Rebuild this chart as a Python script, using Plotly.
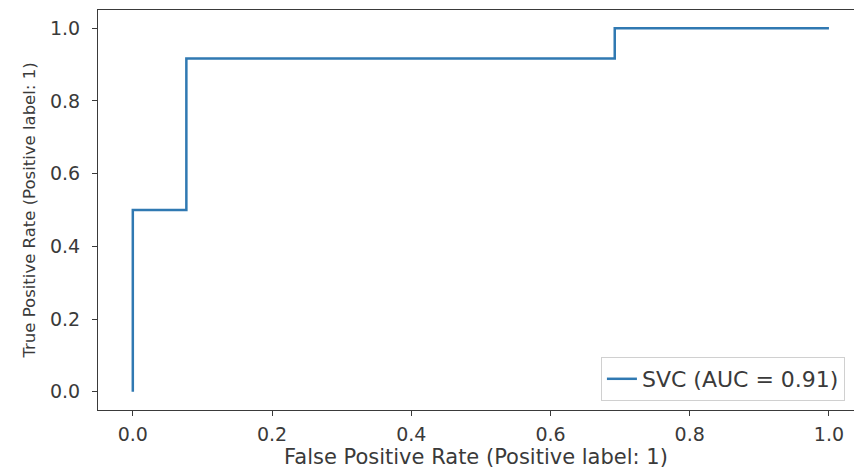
import plotly.graph_objects as go

fpr = [0.0, 0.0, 1/13, 1/13, 9/13, 9/13, 1.0]
tpr = [0.0, 0.5, 0.5, 11/12, 11/12, 1.0, 1.0]
series_name = "SVC (AUC = 0.91)"
tick_vals = [0.0, 0.2, 0.4, 0.6, 0.8, 1.0]
tick_text = ["0.0", "0.2", "0.4", "0.6", "0.8", "1.0"]

fig = go.Figure()
fig.add_trace(go.Scatter(x=fpr, y=tpr, mode="lines", name=series_name,
                         line=dict(color="#3079b2", width=2.5)))

axis_common = dict(showgrid=False, zeroline=False, showline=True, linecolor="#3a3a3a",
                   linewidth=1.2, ticks="outside", ticklen=5, tickwidth=1.2, tickcolor="#3a3a3a",
                   tickvals=tick_vals, ticktext=tick_text,
                   tickfont=dict(family="DejaVu Sans", size=19, color="#3a3a3a"))

fig.update_layout(
    width=854, height=470,
    margin=dict(l=98, r=0, t=10, b=60),
    paper_bgcolor="white", plot_bgcolor="white",
    xaxis=dict(range=[-0.05, 1.036], mirror=True, ticklabelstandoff=2,
               title=dict(text="False Positive Rate (Positive label: 1)", standoff=2,
                          font=dict(family="DejaVu Sans", size=21, color="#3a3a3a")),
               **axis_common),
    yaxis=dict(range=[-0.05, 1.05], ticklabelstandoff=8,
               title=dict(text="True Positive Rate (Positive label: 1)", standoff=10,
                          font=dict(family="DejaVu Sans", size=16.5, color="#3a3a3a")),
               **axis_common),
    showlegend=True,
    legend=dict(x=0.988, y=0.0225, xanchor="right", yanchor="bottom",
                bgcolor="white", bordercolor="#d0d0d0", borderwidth=1,
                font=dict(family="DejaVu Sans", size=22, color="#3a3a3a")),
)

fig.write_html("out.html", config={"displayModeBar": False},
               post_script="document.body.style.margin='0';document.body.style.overflow='hidden';")
